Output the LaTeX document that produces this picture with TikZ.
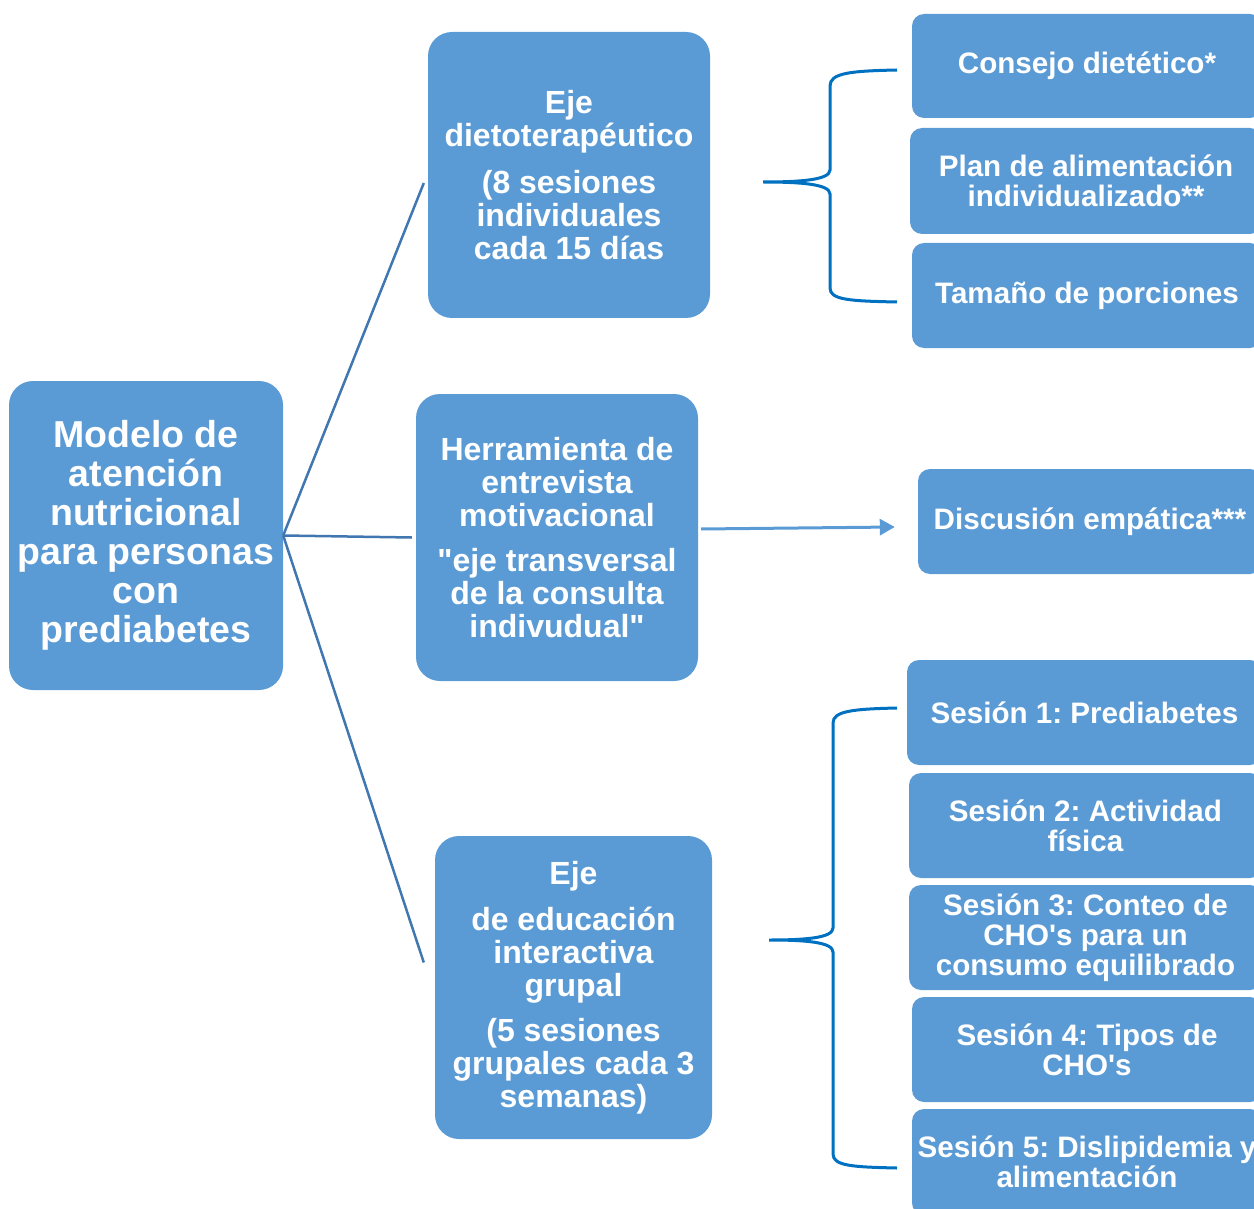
\documentclass[tikz,border=0pt]{standalone}
\usepackage{fontspec}
\setmainfont{Liberation Sans}
\usetikzlibrary{calc,arrows.meta}
\definecolor{boxblue}{HTML}{5B9BD5}
\definecolor{linkblue}{HTML}{4177B0}
\definecolor{braceblue}{HTML}{0070C0}
\frenchspacing
\begin{document}
\begin{tikzpicture}[x=1pt,y=-1pt,
  box/.style={fill=boxblue, draw=none, text=white, align=center, inner sep=0pt},
  bigbox/.style={box, rounded corners=24pt},
  smallbox/.style={box, rounded corners=12pt, font=\bfseries\fontsize{29.6}{30}\selectfont},
  midfont/.style={font=\bfseries\fontsize{32}{33}\selectfont},
  mainline/.style={draw=linkblue, line width=2.5pt},
  bracepath/.style={draw=braceblue, line width=3pt},
  arrowline/.style={draw=boxblue, line width=3pt, -{Triangle[length=15pt,width=16pt]}}
]
\useasboundingbox (0,0) rectangle (1254,1209);
\clip (0,0) rectangle (1254,1209);

% main boxes
\node[bigbox, minimum width=274pt, minimum height=309pt, font=\bfseries\fontsize{37.5}{39}\selectfont] (main) at (146,535.5)
  {Modelo de\\atención\\nutricional\\para personas\\con\\prediabetes};
\node[bigbox, midfont, minimum width=282pt, minimum height=286pt] (dieto) at (569,175)
  {Eje\\dietoterapéutico\\[14pt](8 sesiones\\individuales\\cada 15 días};
\node[bigbox, midfont, minimum width=282pt, minimum height=287pt] (herr) at (557,537.5)
  {Herramienta de\\entrevista\\motivacional\\[12pt]\textquotedbl eje transversal\\de la consulta\\indivudual\textquotedbl};
\node[bigbox, midfont, minimum width=277pt, minimum height=303pt] (educ) at (573.5,987.5)
  {Eje\\[13pt]de educación\\interactiva\\grupal\\[12pt](5 sesiones\\grupales cada 3\\semanas)};

% right boxes
\node[smallbox, minimum width=350pt, minimum height=104pt] (consejo) at (1087,66) {Consejo dietético*};
\node[smallbox, minimum width=352pt, minimum height=106pt] (plan) at (1086,181) {Plan de alimentación\\individualizado**};
\node[smallbox, minimum width=350pt, minimum height=105pt] (tam) at (1087,295.5) {Tamaño de porciones};
\node[smallbox, minimum width=344pt, minimum height=105pt] (disc) at (1090,521.5) {Discusión empática***};
\node[smallbox, minimum width=355pt, minimum height=105pt] (s1) at (1084.5,712.5) {Sesión 1: Prediabetes};
\node[smallbox, minimum width=353pt, minimum height=105pt] (s2) at (1085.5,825.5) {Sesión 2: Actividad\\física};
\node[smallbox, minimum width=353pt, minimum height=105pt] (s3) at (1085.5,937.5) {Sesión 3: Conteo de\\CHO\textquotesingle s para un\\consumo equilibrado};
\node[smallbox, minimum width=350pt, minimum height=105pt] (s4) at (1087,1049.5) {Sesión 4: Tipos de\\CHO\textquotesingle s};
\node[smallbox, minimum width=350pt, minimum height=106pt] (s5) at (1087,1162) {Sesión 5: Dislipidemia y\\alimentación};

% connectors from main
\draw[mainline] (main.east) -- ($(dieto.west)+(-4,8)$);
\draw[mainline] (main.east) -- ($(herr.west)+(-4,0)$);
\draw[mainline] (main.east) -- ($(educ.west)+(-11,-25)$);

% arrow
\draw[arrowline] ($(herr.east)+(3,-8.5)$) -- ($(disc.west)+(-23,5.5)$);

% braces
\coordinate (b1top) at (897,70);
\coordinate (b1tip) at (763,182);
\coordinate (b1bot) at (897,302);
\draw[bracepath] (b1top) .. controls (850,71) and (830,73) .. (830,86) -- (830,170)
  .. controls (830,180) and (800,182) .. (b1tip)
  .. controls (800,182) and (830,184) .. (830,194) -- (830,288)
  .. controls (830,300) and (850,301) .. (b1bot);

\coordinate (b2top) at (897,708);
\coordinate (b2tip) at (769,940);
\coordinate (b2bot) at (897,1168);
\draw[bracepath] (b2top) .. controls (853,709) and (833,711) .. (833,723) -- (833,928)
  .. controls (833,938) and (805,940) .. (b2tip)
  .. controls (805,940) and (833,942) .. (833,952) -- (833,1154)
  .. controls (833,1166) and (853,1167) .. (b2bot);
\end{tikzpicture}
\end{document}
